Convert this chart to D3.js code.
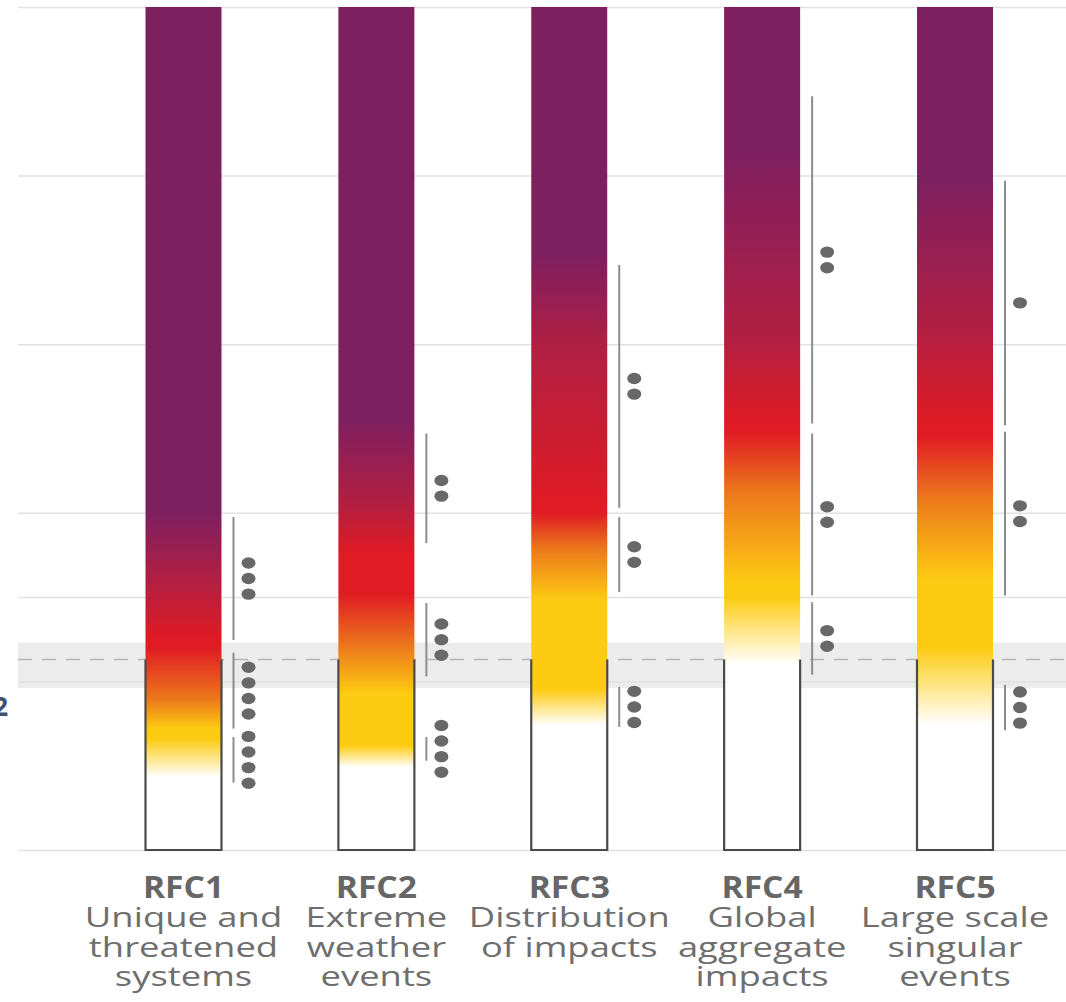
<!DOCTYPE html>
<html>
<head>
<meta charset="utf-8">
<script src="https://cdn.jsdelivr.net/npm/d3@7"></script>
<style>
  html, body { margin: 0; padding: 0; background: #ffffff; }
  svg { display: block; }
</style>
</head>
<body>
<svg id="chart" width="1066" height="1002"></svg>
<script>
// ---------- data ----------
const categories = ["RFC1", "RFC2", "RFC3", "RFC4", "RFC5"];
const subtitles = [
  ["Unique and", "threatened", "systems"],
  ["Extreme", "weather", "events"],
  ["Distribution", "of impacts"],
  ["Global", "aggregate", "impacts"],
  ["Large scale", "singular", "events"]
];
const yTicks = [0, 1, 1.5, 2, 3, 4, 5];

// ember colour transition levels (°C)
const whiteLevel   = [0.43, 0.49, 0.74, 1.10, 0.74];
const yellowLow    = [0.66, 0.62, 0.95, 1.50, 1.20];
const yellowHigh   = [0.72, 0.93, 1.48, 1.58, 1.60];
const orangeLevel  = [0.89, 1.20, 1.78, 2.11, 2.08];
const redLow       = [1.20, 1.52, 2.00, 2.48, 2.45];
const redHigh      = [1.25, 1.76, 2.05, 2.52, 2.52];
const crimsonLevel = [1.60, 2.06, 2.97, 3.04, 3.08];
const purpleLevel  = [2.00, 2.55, 3.53, 4.15, 3.97];

// transition ranges and confidence (number of dots)
const confBottom = [[1.245, 0.72, 0.40], [1.82, 1.03, 0.53], [2.03, 1.53, 0.73], [2.53, 1.51, 1.04], [2.52, 1.51, 0.71]];
const confTop    = [[1.975, 1.17, 0.67], [2.47, 1.465, 0.67], [3.47, 1.975, 0.967], [4.47, 2.47, 1.47], [3.97, 2.48, 0.98]];
const confDots   = [[3, 4, 4], [2, 3, 4], [2, 2, 3], [2, 2, 2], [1, 2, 3]];

// present-day warming band
const bandLow = 0.96, bandHigh = 1.23, bandLine = 1.13;
const outlineTop = 1.13;

// ---------- layout ----------
const svg = d3.select("#chart");
const W = 1066;
const gridLeft = 18;
const barW = 76;

const y = d3.scaleLinear().domain([0, 5]).range([850, 7]);
const x = d3.scalePoint().domain(categories).range([183.5, 955]);

const colors = {
  white: "#ffffff", yellow: "#fdcb12", orange: "#ec7a1b",
  red: "#e01b24", crimson: "#b21f42", purple: "#7e1f60"
};

// band
svg.append("rect")
  .attr("x", gridLeft).attr("width", W - gridLeft)
  .attr("y", y(bandHigh)).attr("height", y(bandLow) - y(bandHigh))
  .attr("fill", "#ececec");

// gridlines
const grid = svg.append("g").attr("transform", `translate(${gridLeft},0)`)
  .call(d3.axisLeft(y).tickValues(yTicks).tickSize(-(W - gridLeft)).tickFormat(""));
grid.select(".domain").remove();
grid.selectAll(".tick line").attr("stroke", "#e2e2e2").attr("stroke-width", 1.5);

// dashed line
svg.append("line")
  .attr("x1", gridLeft).attr("x2", W)
  .attr("y1", y(bandLine)).attr("y2", y(bandLine))
  .attr("stroke", "#b5b5b5").attr("stroke-width", 1.5)
  .attr("stroke-dasharray", "14,10");

// left fragment of a clipped label
svg.append("text")
  .attr("x", 8).attr("y", 716)
  .attr("text-anchor", "end")
  .attr("font-family", "Open Sans, sans-serif")
  .attr("font-weight", "bold")
  .attr("font-size", 26)
  .attr("fill", "#3c5270")
  .text("2");

// gradients
const defs = svg.append("defs");
categories.forEach((c, i) => {
  const stops = [
    [0, colors.white],
    [whiteLevel[i], colors.white],
    [yellowLow[i], colors.yellow],
    [yellowHigh[i], colors.yellow],
    [orangeLevel[i], colors.orange],
    [redLow[i], colors.red],
    [redHigh[i], colors.red],
    [crimsonLevel[i], colors.crimson],
    [purpleLevel[i], colors.purple],
    [5, colors.purple]
  ];
  const g = defs.append("linearGradient")
    .attr("id", "ember" + i)
    .attr("gradientUnits", "userSpaceOnUse")
    .attr("x1", 0).attr("x2", 0)
    .attr("y1", y(0)).attr("y2", y(5));
  stops.forEach(s => {
    g.append("stop").attr("offset", s[0] / 5).attr("stop-color", s[1]);
  });
});

// bars
svg.append("g").selectAll("rect")
  .data(categories)
  .join("rect")
  .attr("x", d => x(d) - barW / 2)
  .attr("width", barW)
  .attr("y", y(5))
  .attr("height", y(0) - y(5))
  .attr("fill", (d, i) => `url(#ember${i})`);

// outlines
svg.append("g").selectAll("path")
  .data(categories)
  .join("path")
  .attr("d", d => {
    const x0 = x(d) - barW / 2, x1 = x(d) + barW / 2;
    return `M${x0},${y(outlineTop)}L${x0},${y(0)}L${x1},${y(0)}L${x1},${y(outlineTop)}`;
  })
  .attr("fill", "none")
  .attr("stroke", "#4a4a4a")
  .attr("stroke-width", 2.2);

// confidence lines and dots
categories.forEach((c, i) => {
  const lx = x(c) + barW / 2 + 12;
  const dx = x(c) + barW / 2 + 27;
  const g = svg.append("g");
  confBottom[i].forEach((lo, j) => {
    const hi = confTop[i][j];
    g.append("line")
      .attr("x1", lx).attr("x2", lx)
      .attr("y1", y(hi)).attr("y2", y(lo))
      .attr("stroke", "#8c8c8c").attr("stroke-width", 2);
    const n = confDots[i][j];
    const cy = y((lo + hi) / 2);
    d3.range(n).forEach(k => {
      g.append("ellipse")
        .attr("cx", dx)
        .attr("cy", cy + (k - (n - 1) / 2) * 15.6)
        .attr("rx", 7).attr("ry", 5.7)
        .attr("fill", "#686868");
    });
  });
});

// labels
categories.forEach((c, i) => {
  const g = svg.append("g");
  g.append("text")
    .attr("transform", `translate(${x(c)},898) scale(1.12,1)`)
    .attr("text-anchor", "middle")
    .attr("font-family", "Open Sans, sans-serif")
    .attr("font-weight", "bold")
    .attr("font-size", 30)
    .attr("fill", "#666666")
    .text(c);
  subtitles[i].forEach((s, k) => {
    g.append("text")
      .attr("transform", `translate(${x(c)},${927 + k * 29.5}) scale(1.3,1)`)
      .attr("text-anchor", "middle")
      .attr("font-family", "Open Sans, sans-serif")
      .attr("font-size", 28)
      .attr("fill", "#6e6e6e")
      .text(s);
  });
});
</script>
</body>
</html>
